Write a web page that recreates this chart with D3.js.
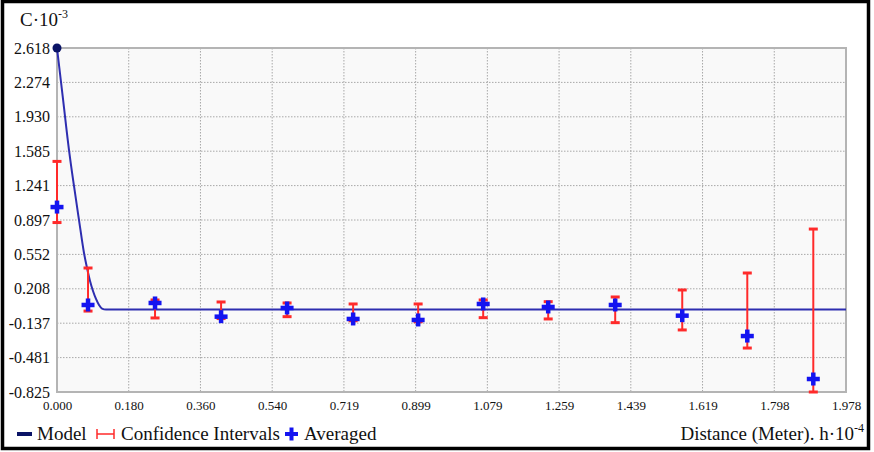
<!DOCTYPE html>
<html><head><meta charset="utf-8">
<script src="https://cdn.jsdelivr.net/npm/d3@7/dist/d3.min.js"></script>
<style>body{margin:0;background:#fff}svg{display:block}text{font-family:"Liberation Serif","Times New Roman",Times,serif}</style>
</head><body><svg id="c" width="874" height="452" font-family="Liberation Serif, serif"></svg>
<script>
// ---- data ----
const xTickLabels = ["0.000","0.180","0.360","0.540","0.719","0.899","1.079","1.259","1.439","1.619","1.798","1.978"];
const yTickLabels = ["-0.825","-0.481","-0.137","0.208","0.552","0.897","1.241","1.585","1.930","2.274","2.618"];
const pointX   = [0, 0.0778, 0.2458, 0.4114, 0.5769, 0.7425, 0.9055, 1.0686, 1.2316, 1.3996, 1.5677, 1.7308, 1.8963];
const averaged = [1.026, 0.046, 0.066, -0.071, 0.016, -0.094, -0.104, 0.056, 0.026, 0.046, -0.061, -0.265, -0.695];
const ciHigh   = [1.483, 0.416, 0.096, 0.076, 0.066, 0.056, 0.056, 0.096, 0.079, 0.126, 0.196, 0.366, 0.806];
const ciLow    = [0.871, -0.015, -0.084, -0.090, -0.071, -0.112, -0.122, -0.081, -0.094, -0.131, -0.204, -0.385, -0.825];
const modelX   = [0, 0.0151, 0.0301, 0.0426, 0.0552, 0.0677, 0.0753, 0.0828, 0.0903, 0.0978, 0.1054, 0.1129, 0.1229, 1.9783];
const modelY   = [2.618, 2.107, 1.597, 1.237, 0.896, 0.566, 0.416, 0.286, 0.186, 0.106, 0.045, 0.010, 0, 0];

const svg = d3.select("#c");
const L = 57, R = 846, T = 48, B = 392;
const x = d3.scaleLinear().domain([0, 1.9783]).range([L, R]);
const y = d3.scaleLinear().domain([-0.825, 2.618]).range([B, T]);
const xTickVals = xTickLabels.map((d, i) => i * 1.9783 / 11);
const yTickVals = yTickLabels.map((d, i) => -0.825 + i * 3.443 / 10);

// outer frame
svg.append("rect").attr("x", 2.5).attr("y", 1.5).attr("width", 866).attr("height", 447)
  .attr("fill", "#fff").attr("stroke", "#000").attr("stroke-width", 3.5);

// plot background
svg.append("rect").attr("x", L).attr("y", T).attr("width", R - L).attr("height", B - T).attr("fill", "#f9f9f9");

// grid
const g = svg.append("g");
g.selectAll(".gx").data(xTickVals.slice(1, -1)).join("line")
  .attr("x1", d => x(d)).attr("x2", d => x(d)).attr("y1", T).attr("y2", B)
  .attr("stroke", "#a8a8a8").attr("stroke-width", 1).attr("stroke-dasharray", "1.5,1.5");
g.selectAll(".gy").data(yTickVals.slice(1, -1)).join("line")
  .attr("y1", d => y(d)).attr("y2", d => y(d)).attr("x1", L).attr("x2", R)
  .attr("stroke", "#a8a8a8").attr("stroke-width", 1).attr("stroke-dasharray", "1.5,1.5");

// plot border
svg.append("rect").attr("x", L).attr("y", T).attr("width", R - L).attr("height", B - T)
  .attr("fill", "none").attr("stroke", "#b4b4b4").attr("stroke-width", 2);

// axes labels via d3 axes
const xAxis = d3.axisBottom(x).tickValues(xTickVals).tickFormat((d, i) => xTickLabels[i]).tickSize(0).tickPadding(9);
const xa = svg.append("g").attr("transform", `translate(0,${B})`).call(xAxis);
xa.select(".domain").remove();
xa.attr("font-family", null);
xa.selectAll("text").attr("font-size", 13).attr("fill", "#111");

const yAxis = d3.axisLeft(y).tickValues(yTickVals).tickFormat((d, i) => yTickLabels[i]).tickSize(0).tickPadding(7);
const ya = svg.append("g").attr("transform", `translate(${L},0)`).call(yAxis);
ya.select(".domain").remove();
ya.attr("font-family", null);
ya.selectAll("text").attr("font-size", 16).attr("fill", "#111");

// model curve
const line = d3.line().x(d => x(d[0])).y(d => y(d[1])).curve(d3.curveMonotoneX);
svg.append("path").datum(modelX.map((d, i) => [d, modelY[i]]))
  .attr("d", line).attr("fill", "none").attr("stroke", "#2e2eb0").attr("stroke-width", 2);
svg.append("circle").attr("cx", x(modelX[0])).attr("cy", y(modelY[0])).attr("r", 4.5).attr("fill", "#0b1466");

// confidence intervals
const ci = svg.append("g").attr("stroke", "#ff2a2a").attr("stroke-width", 2);
pointX.forEach((px, i) => {
  const cx = x(px);
  ci.append("line").attr("x1", cx).attr("x2", cx).attr("y1", y(ciHigh[i])).attr("y2", y(ciLow[i]));
  ci.append("line").attr("x1", cx - 4.5).attr("x2", cx + 4.5).attr("y1", y(ciHigh[i])).attr("y2", y(ciHigh[i])).attr("stroke-width", 3);
  ci.append("line").attr("x1", cx - 4.5).attr("x2", cx + 4.5).attr("y1", y(ciLow[i])).attr("y2", y(ciLow[i])).attr("stroke-width", 3);
});

// averaged plus markers
function plus(sel, cx, cy, s, w) {
  sel.append("rect").attr("x", cx - s).attr("y", cy - w / 2).attr("width", 2 * s).attr("height", w).attr("fill", "#1414f0");
  sel.append("rect").attr("x", cx - w / 2).attr("y", cy - s).attr("width", w).attr("height", 2 * s).attr("fill", "#1414f0");
}
const pg = svg.append("g");
pointX.forEach((px, i) => plus(pg, x(px), y(averaged[i]), 6.5, 4.5));

// y title
const yt1 = svg.append("text").attr("x", 20).attr("y", 26).attr("font-size", 19).attr("fill", "#111");
yt1.append("tspan").text("C·10");
yt1.append("tspan").attr("font-size", 12).attr("dy", -8).text("-3");

// x title
const xt1 = svg.append("text").attr("x", 864).attr("y", 440).attr("font-size", 19).attr("fill", "#111").attr("text-anchor", "end");
xt1.append("tspan").text("Distance (Meter). h·10");
xt1.append("tspan").attr("font-size", 12).attr("dy", -8).text("-4");

// legend
const lg = svg.append("g");
lg.append("line").attr("x1", 17).attr("x2", 32).attr("y1", 434).attr("y2", 434).attr("stroke", "#0b1466").attr("stroke-width", 4);
lg.append("text").attr("x", 37).attr("y", 440).attr("font-size", 19).attr("fill", "#111").text("Model");
lg.append("line").attr("x1", 97).attr("x2", 114).attr("y1", 434).attr("y2", 434).attr("stroke", "#ff2a2a").attr("stroke-width", 1.5);
lg.append("line").attr("x1", 97).attr("x2", 97).attr("y1", 429).attr("y2", 439).attr("stroke", "#ff2a2a").attr("stroke-width", 1.5);
lg.append("line").attr("x1", 114).attr("x2", 114).attr("y1", 429).attr("y2", 439).attr("stroke", "#ff2a2a").attr("stroke-width", 1.5);
lg.append("text").attr("x", 121).attr("y", 440).attr("font-size", 19).attr("fill", "#111").text("Confidence Intervals");
plus(lg, 291.5, 434, 6.5, 4);
lg.append("text").attr("x", 304).attr("y", 440).attr("font-size", 19).attr("fill", "#111").text("Averaged");
</script></body></html>
